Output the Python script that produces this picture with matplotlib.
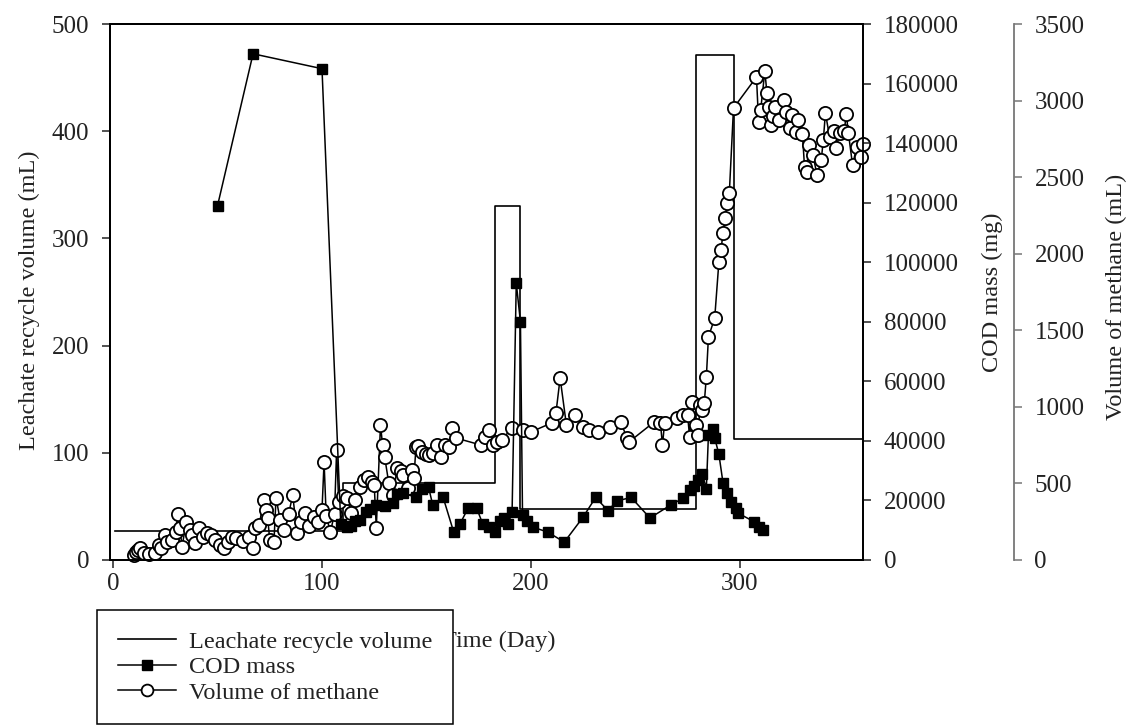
import matplotlib
matplotlib.use('Agg')
import matplotlib.pyplot as plt
from matplotlib.lines import Line2D

plt.rcParams['font.family'] = ['Liberation Serif', 'DejaVu Serif']
plt.rcParams['font.size'] = 17

# Leachate recycle volume (mL), step profile
leach_day = [1, 110, 183, 195, 279, 297, 359]
leach_vol = [27, 72, 330, 48, 471, 113, 113]

# COD mass (mg)
cod_day = [50, 67, 100, 109, 112, 114, 116, 118, 121, 123, 126, 130, 134, 136, 139,
           145, 148, 151, 153, 158, 163, 166, 170, 174, 177, 180, 183, 185, 187, 189,
           191, 193, 195, 196, 198, 201, 208, 216, 225, 231, 237, 241, 248, 257, 267,
           273, 276, 278, 280, 282, 284, 285, 287, 288, 290, 292, 294, 296, 298, 299,
           307, 309, 311]
cod_mg = [119000, 170000, 165000, 12000, 11000, 11500, 13000, 13500, 16000, 17000,
          18500, 18000, 19000, 22000, 22500, 21000, 24000, 24500, 18500, 21000,
          9500, 12000, 17500, 17500, 12000, 11000, 9500, 13000, 14000, 12000,
          16000, 93000, 80000, 15000, 13000, 11000, 9400, 6000, 14400, 21000,
          16500, 19800, 21000, 14100, 18500, 20800, 23500, 25000, 27000, 29000,
          24000, 42000, 44000, 41000, 35500, 25800, 22500, 19500, 17500, 15800,
          12800, 11000, 10000]

# Volume of methane (mL)
meth_day = [10, 11, 12, 13, 15, 17, 20, 22, 23, 25, 26, 28, 30, 31, 32, 33, 35, 37, 38, 39,
            41, 43, 45, 47, 49, 51, 53, 55, 57, 59, 62, 65, 67, 68, 70, 72, 73, 74, 75, 77,
            78, 80, 82, 84, 86, 88, 90, 92, 94, 96, 98, 100, 101, 102, 104, 106, 107, 108,
            110, 112, 114, 116, 118, 120, 122, 124, 125, 126, 128, 129, 130, 132, 134, 136,
            138, 139, 141, 143, 144, 145, 146, 148, 150, 151, 153, 155, 157, 159, 161, 162,
            164, 176, 178, 180, 182, 184, 186, 191, 196, 200, 210, 212, 214, 217, 221, 225,
            228, 232, 238, 243, 246, 247, 259, 262, 263, 264, 270, 273, 275, 276, 277, 279,
            280, 281, 282, 283, 284, 285, 288, 290, 291, 292, 293, 294, 295, 297, 308, 309,
            310, 312, 313, 314, 315, 316, 317, 319, 321, 322, 324, 325, 327, 328, 330, 331,
            332, 333, 335, 337, 339, 340, 341, 343, 345, 346, 348, 350, 351, 352, 354, 356,
            358, 359]
meth_ml = [30, 52, 65, 78, 46, 40, 46, 98, 75, 163, 118, 131, 183, 300, 210, 85, 248, 196, 160, 111,
           209, 150, 176, 160, 131, 98, 78, 115, 150, 144, 125, 150, 78, 209, 229, 392, 326, 274, 131, 118,
           405, 261, 196, 300, 424, 176, 250, 307, 220, 281, 250, 326, 640, 290, 183, 300, 718, 379,
           420, 405, 307, 392, 477, 520, 542, 510, 490, 209, 882, 751, 673, 500, 424, 601,
           580, 555, 470, 588, 536, 738, 745, 705, 690, 686, 700, 751, 673, 751, 735, 862,
           797, 751, 800, 849, 751, 770, 784, 862, 849, 836, 895, 960, 1188, 882, 947, 869,
           849, 836, 869, 901, 797, 771, 901, 895, 751, 895, 927, 950, 947, 803, 1032, 882,
           816, 1012, 980, 1025, 1195, 1456, 1580, 1946, 2024, 2135, 2233, 2331, 2397, 2951, 3154, 2860,
           2938, 3193, 3049, 2958, 2840, 2900, 2958, 2870, 3004, 2925, 2821, 2906, 2795, 2870, 2782, 2566,
           2534, 2710, 2645, 2514, 2612, 2743, 2919, 2762, 2800, 2690, 2788, 2800, 2912, 2788, 2579, 2700,
           2632, 2717]

fig = plt.figure(figsize=(11.36, 7.28), dpi=100)
ax = fig.add_axes([0.0968, 0.2308, 0.6629, 0.7362])
ax3 = ax.twinx()
ax2 = ax.twinx()

ax.plot(leach_day, leach_vol, color='black', lw=1.2, drawstyle='steps-post')
ax3.plot(meth_day, meth_ml, color='black', lw=1.1, marker='o', markersize=9.5,
         markerfacecolor='white', markeredgecolor='black', markeredgewidth=1.3, clip_on=False)
ax2.plot(cod_day, cod_mg, color='black', lw=1.1, marker='s', markersize=7.8,
         markerfacecolor='black', markeredgecolor='black')

ax.set_xlim(-1.5, 359)
ax.set_ylim(0, 500)
ax2.set_ylim(0, 180000)
ax3.set_ylim(0, 3500)
ax.set_xticks([0, 100, 200, 300])
ax.set_yticks(range(0, 501, 100))
ax2.set_yticks(range(0, 180001, 20000))
ax3.set_yticks(range(0, 3501, 500))

for a in (ax, ax2, ax3):
    a.tick_params(direction='out', length=6, width=1.1, labelsize=18, colors='#222')
    for s in a.spines.values():
        s.set_linewidth(1.3)
ax.tick_params(axis='y', pad=9)
ax2.tick_params(axis='y', pad=9)
ax3.tick_params(axis='y', pad=9)

ax3.spines['right'].set_position(('axes', 1.2))
ax3.spines['right'].set_color('#777')
ax3.tick_params(axis='y', color='#777', labelcolor='#222')

ax.set_xlabel('Time (Day)', fontsize=17.5, color='#222')
ax.set_ylabel('Leachate recycle volume (mL)', fontsize=17.5, color='#222')
ax2.set_ylabel('COD mass (mg)', fontsize=17.5, color='#222')
ax3.set_ylabel('Volume of methane (mL)', fontsize=17.5, color='#222')
ax.xaxis.set_label_coords(0.516, -0.132)
ax.yaxis.set_label_coords(-0.093, 0.485)
ax2.yaxis.set_label_coords(1.158, 0.5)
ax3.yaxis.set_label_coords(1.322, 0.49)

handles = [
    Line2D([], [], color='black', lw=1.2),
    Line2D([], [], color='black', lw=1.1, marker='s', markersize=7.5,
           markerfacecolor='black'),
    Line2D([], [], color='black', lw=1.1, marker='o', markersize=8.5,
           markerfacecolor='white', markeredgewidth=1.3),
]
labels = ['Leachate recycle volume', 'COD mass', 'Volume of methane']
leg = fig.legend(handles, labels, loc='upper left', bbox_to_anchor=(0.0854, 0.162),
                 bbox_transform=fig.transFigure, borderaxespad=0, frameon=True,
                 fancybox=False, edgecolor='black', framealpha=1, fontsize=17.5,
                 handlelength=2.4, handletextpad=0.55, labelspacing=0.14, borderpad=0.85)
leg.get_frame().set_linewidth(1.1)
for t in leg.get_texts():
    t.set_color('#222')

fig.savefig('out.png', dpi=100)
